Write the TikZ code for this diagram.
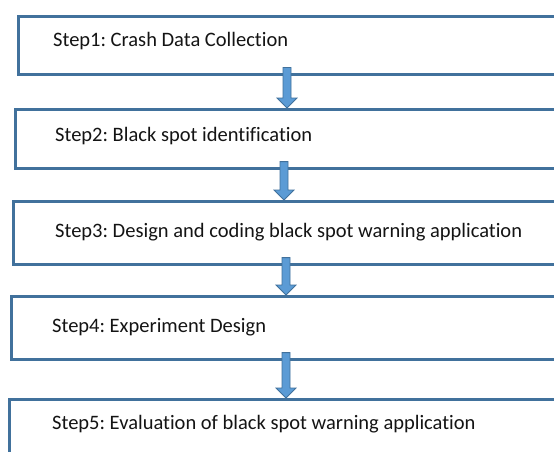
\documentclass[tikz,border=0pt]{standalone}
\usepackage{fontspec}
\setmainfont[Ligatures=NoCommon]{Carlito}
\usetikzlibrary{calc}

\definecolor{boxline}{HTML}{41719C}
\definecolor{arrowfill}{HTML}{5B9BD5}

\tikzset{
  stepbox/.style={draw=boxline, line width=2.6pt, rectangle, anchor=north west,
    minimum width=620pt, inner sep=0pt},
  steplabel/.style={anchor=base west, inner sep=0pt, font=\fontsize{20.5}{24}\selectfont, text=black!92},
  flowarrow/.style={draw=boxline, fill=arrowfill, line width=0.8pt, line join=miter},
}

% block arrow from the lower part of one box to the top edge of the next
\newcommand\flowstep[3]{%
  \draw[flowarrow] let \p1=(#2.south), \p2=(#3.north) in
    (#1pt-4pt,\y1+8pt) -- (#1pt+4pt,\y1+8pt) -- (#1pt+4pt,\y2+10pt) --
    (#1pt+10pt,\y2+10pt) -- (#1pt,\y2) -- (#1pt-10pt,\y2+10pt) --
    (#1pt-4pt,\y2+10pt) -- cycle;}

\frenchspacing
\begin{document}
\begin{tikzpicture}[x=1pt,y=1pt]
  \useasboundingbox (0,0) rectangle (554,-452);
  \clip (0,0) rectangle (554,-452);
  \fill[white] (0,0) rectangle (554,-452);

  \node[stepbox, minimum height=58pt] (b1) at (17,-15) {};
  \node[stepbox, minimum height=59pt] (b2) at (14,-108) {};
  \node[stepbox, minimum height=63pt] (b3) at (12,-200) {};
  \node[stepbox, minimum height=63pt] (b4) at (10,-295) {};
  \node[stepbox, minimum height=70pt] (b5) at (8,-398) {};

  \node[steplabel] (t1) at (53,-47) {Step1: Crash Data Collection};
  \node[steplabel] (t2) at (55,-141) {Step2: Black spot identification};
  \node[steplabel] (t3) at (55,-237) {Step3: Design and coding black spot warning application};
  \node[steplabel] (t4) at (52,-332) {Step4: Experiment Design};
  \node[steplabel] (t5) at (52,-429) {Step5: Evaluation of black spot warning application};

  \flowstep{287}{b1}{b2}
  \flowstep{284}{b2}{b3}
  \flowstep{286}{b3}{b4}
  \flowstep{286}{b4}{b5}
\end{tikzpicture}
\end{document}
